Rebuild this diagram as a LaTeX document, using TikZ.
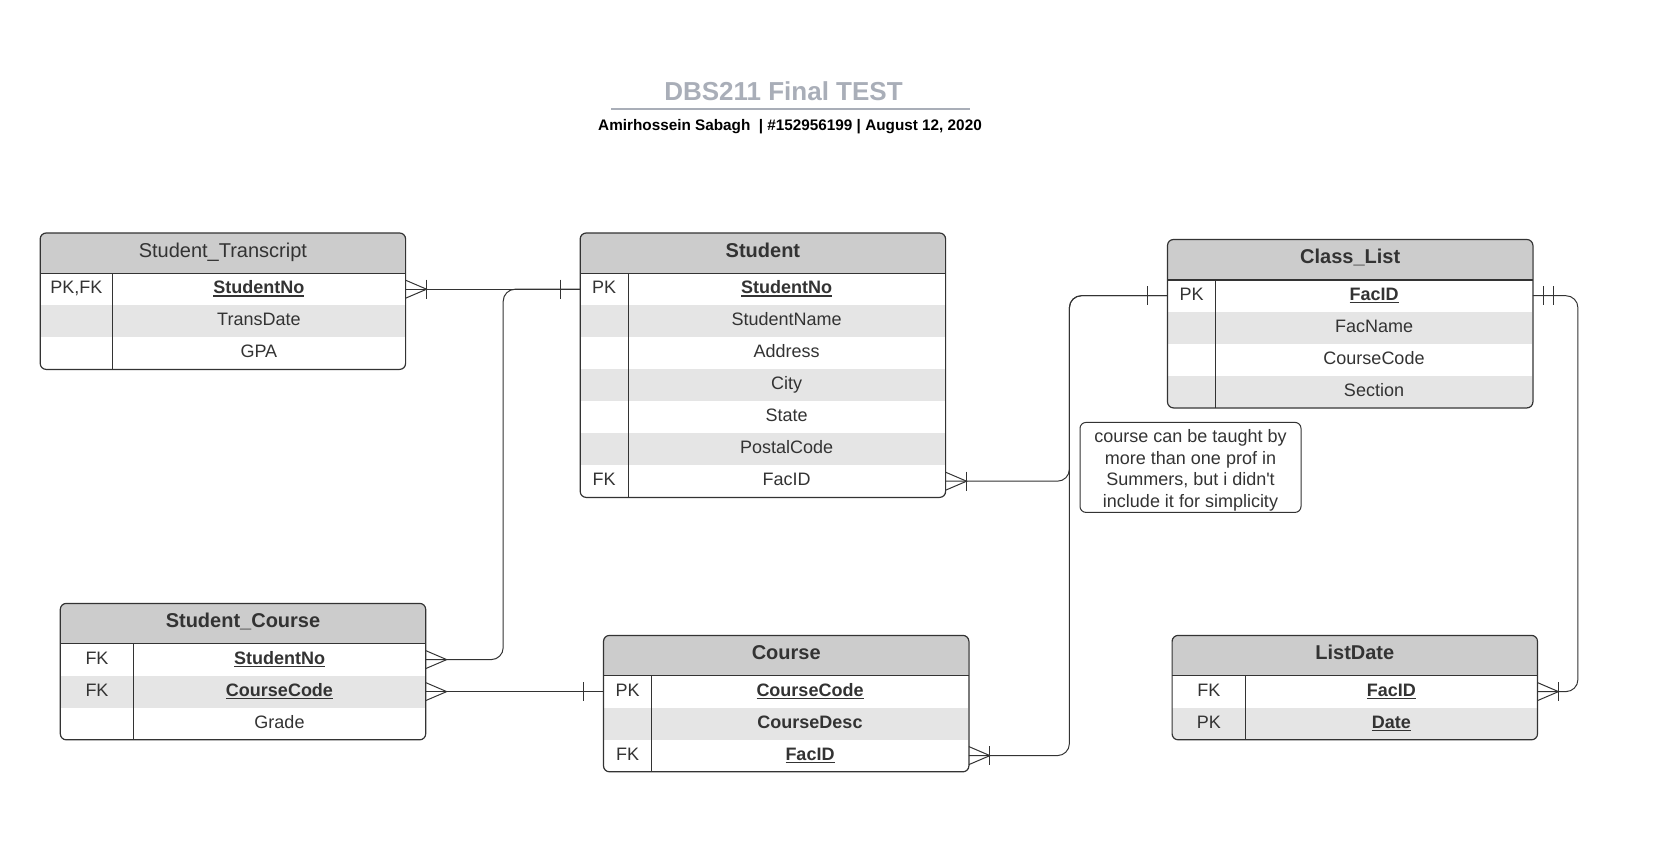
\documentclass[tikz,border=0pt]{standalone}
\usepackage{fontspec}
\setmainfont{Liberation Sans}
\definecolor{txt}{HTML}{333333}
\definecolor{hdrgray}{HTML}{CCCCCC}
\definecolor{rowgray}{HTML}{E5E5E5}
\definecolor{titlegray}{HTML}{A9AEB8}
\newcommand{\keyattr}[1]{\setbox0=\hbox{\bfseries #1}\rlap{\rule[-3pt]{\wd0}{1.4pt}}\box0}
\tikzset{
	hdr/.style={fill=hdrgray, anchor=north west, minimum width=365pt, minimum height=40pt, inner sep=0pt, text=txt, text height=14pt, text depth=6pt, font=\fontsize{20}{24}\selectfont\bfseries},
	cell/.style={anchor=north west, minimum height=32pt, inner sep=0pt, text=txt, text height=13pt, text depth=4pt, font=\fontsize{18}{22}\selectfont},
	tbl/.style={draw=txt, line width=1.2pt},
	rel/.style={draw=txt, line width=1pt, rounded corners=12pt},
	foot/.style={draw=txt, line width=1pt},
	crowfoot/.pic={\draw[foot] (0,9pt) -- (21pt,0) -- (0,-9pt);},
	onebar/.pic={\draw[foot] (0,9.5pt) -- (0,-9.5pt);}
}
\begin{document}
\begin{tikzpicture}[x=1pt, y=-1pt]
	\useasboundingbox (0,0) rectangle (1660,860);
	\node[font=\fontsize{26}{30}\selectfont\bfseries, text=titlegray] (title) at (783.5,91) {DBS211 Final TEST};
	\draw[titlegray, line width=1.5pt] (611,109) -- (970,109);
	\node[font=\fontsize{15.3}{18}\selectfont\bfseries] (sub) at (790,126.5) {Amirhossein Sabagh\ \ | \#152956199 | August 12, 2020};

	\begin{scope}
		\clip[rounded corners=6pt] (40.2,233) rectangle (405.2,369);
		\node[hdr, font=\fontsize{20}{24}\selectfont] (tr) at (40.2,233) {Student\_Transcript};
		\foreach \kk/\nm/\fc [count=\i] in {PK{,}FK/\keyattr{StudentNo}/white, /TransDate/rowgray, /GPA/white} {
			\node[cell, fill=\fc, minimum width=72pt] (tr-k\i) at (40.2,{233+8+32*\i}) {\kk};
			\node[cell, fill=\fc, minimum width=293pt] (tr-\i) at (112.2,{233+8+32*\i}) {\nm};
		}
	\end{scope}
	\draw[tbl, rounded corners=6pt] (tr.north west) rectangle (tr-3.south east);
	\draw[tbl] (tr.south west) -- (tr.south east);
	\draw[tbl] (tr-k1.north east) -- (tr-k3.south east);

	\begin{scope}
		\clip[rounded corners=6pt] (580.2,233) rectangle (945.2,497);
		\node[hdr] (st) at (580.2,233) {Student};
		\foreach \kk/\nm/\fc [count=\i] in {PK/\keyattr{StudentNo}/white, /StudentName/rowgray, /Address/white, /City/rowgray, /State/white, /PostalCode/rowgray, FK/FacID/white} {
			\node[cell, fill=\fc, minimum width=47.6pt] (st-k\i) at (580.2,{233+8+32*\i}) {\kk};
			\node[cell, fill=\fc, minimum width=317.4pt] (st-\i) at (627.8,{233+8+32*\i}) {\nm};
		}
	\end{scope}
	\draw[tbl, rounded corners=6pt] (st.north west) rectangle (st-7.south east);
	\draw[tbl] (st.south west) -- (st.south east);
	\draw[tbl] (st-k1.north east) -- (st-k7.south east);

	\begin{scope}
		\clip[rounded corners=6pt] (1167.5,239.5) rectangle (1532.5,407.5);
		\node[hdr] (cl) at (1167.5,239.5) {Class\_List};
		\foreach \kk/\nm/\fc [count=\i] in {PK/\keyattr{FacID}/white, /FacName/rowgray, /CourseCode/white, /Section/rowgray} {
			\node[cell, fill=\fc, minimum width=47.6pt] (cl-k\i) at (1167.5,{239.5+8+32*\i}) {\kk};
			\node[cell, fill=\fc, minimum width=317.4pt] (cl-\i) at (1215.1,{239.5+8+32*\i}) {\nm};
		}
	\end{scope}
	\draw[tbl, rounded corners=6pt] (cl.north west) rectangle (cl-4.south east);
	\draw[tbl] (cl.south west) -- (cl.south east);
	\draw[tbl] (cl-k1.north east) -- (cl-k4.south east);

	\node[draw=txt, line width=1pt, rounded corners=6pt, minimum width=221pt, minimum height=90pt, inner sep=0pt, align=center, text=txt, font=\fontsize{18}{21.5}\selectfont] (note) at (1190.5,467.4) {\rule{0pt}{19pt}course can be taught by\\more than one prof in\\Summers, but i didn\textquotesingle t\\include it for simplicity};

	\begin{scope}
		\clip[rounded corners=6pt] (60.3,603.4) rectangle (425.3,739.4);
		\node[hdr] (sc) at (60.3,603.4) {Student\_Course};
		\foreach \kk/\nm/\fc [count=\i] in {FK/\keyattr{StudentNo}/white, FK/\keyattr{CourseCode}/rowgray, /Grade/white} {
			\node[cell, fill=\fc, minimum width=73pt] (sc-k\i) at (60.3,{603.4+8+32*\i}) {\kk};
			\node[cell, fill=\fc, minimum width=292pt] (sc-\i) at (133.3,{603.4+8+32*\i}) {\nm};
		}
	\end{scope}
	\draw[tbl, rounded corners=6pt] (sc.north west) rectangle (sc-3.south east);
	\draw[tbl] (sc.south west) -- (sc.south east);
	\draw[tbl] (sc-k1.north east) -- (sc-k3.south east);

	\begin{scope}
		\clip[rounded corners=6pt] (603.5,635.4) rectangle (968.5,771.4);
		\node[hdr] (co) at (603.5,635.4) {Course};
		\foreach \kk/\nm/\fc [count=\i] in {PK/\keyattr{CourseCode}/white, /\textbf{CourseDesc}/rowgray, FK/\keyattr{FacID}/white} {
			\node[cell, fill=\fc, minimum width=47.6pt] (co-k\i) at (603.5,{635.4+8+32*\i}) {\kk};
			\node[cell, fill=\fc, minimum width=317.4pt] (co-\i) at (651.1,{635.4+8+32*\i}) {\nm};
		}
	\end{scope}
	\draw[tbl, rounded corners=6pt] (co.north west) rectangle (co-3.south east);
	\draw[tbl] (co.south west) -- (co.south east);
	\draw[tbl] (co-k1.north east) -- (co-k3.south east);

	\begin{scope}
		\clip[rounded corners=6pt] (1172.1,635.4) rectangle (1537.1,739.4);
		\node[hdr] (ld) at (1172.1,635.4) {ListDate};
		\foreach \kk/\nm/\fc [count=\i] in {FK/\keyattr{FacID}/white, PK/\keyattr{Date}/rowgray} {
			\node[cell, fill=\fc, minimum width=73pt] (ld-k\i) at (1172.1,{635.4+8+32*\i}) {\kk};
			\node[cell, fill=\fc, minimum width=292pt] (ld-\i) at (1245.1,{635.4+8+32*\i}) {\nm};
		}
	\end{scope}
	\draw[tbl, rounded corners=6pt] (ld.north west) rectangle (ld-2.south east);
	\draw[tbl] (ld.south west) -- (ld.south east);
	\draw[tbl] (ld-k1.north east) -- (ld-k2.south east);

	\draw[rel] (tr-1.east) -- (st-k1.west);
	\draw[rel] (st-k1.west) -- ++(-77pt,0) |- (sc-1.east);
	\draw[rel] (sc-2.east) -- (co-k1.west);
	\draw[rel] (st-7.east) -- ++(123.8pt,0) |- (cl-k1.west);
	\draw[rel] (co-3.east) -- ++(100.5pt,0) |- (cl-k1.west);
	\draw[rel] (cl-1.east) -- ++(45pt,0) |- (ld-1.east);

	\foreach \n in {tr-1,sc-1,sc-2,st-7,co-3,ld-1}
		\pic at (\n.east) {crowfoot};
	\foreach \n in {tr-1,st-7,co-3,ld-1}
		\pic at ([xshift=21pt]\n.east) {onebar};
	\foreach \n in {st-k1,co-k1,cl-k1}
		\pic at ([xshift=-20pt]\n.west) {onebar};
	\pic at ([xshift=11pt]cl-1.east) {onebar};
	\pic at ([xshift=21pt]cl-1.east) {onebar};
\end{tikzpicture}
\end{document}
